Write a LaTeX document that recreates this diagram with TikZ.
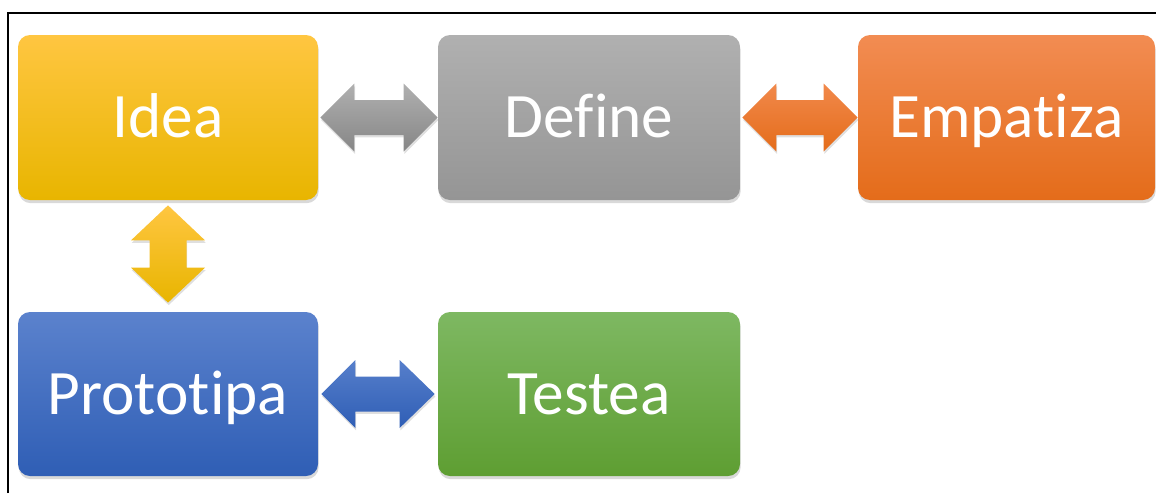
\documentclass[tikz,border=0pt]{standalone}
\usepackage{fontspec}
\setmainfont{Carlito}[Ligatures={NoCommon,NoRare,NoDiscretionary}]
\usetikzlibrary{shadows, calc}

\definecolor{ideaT}{HTML}{FFC641}
\definecolor{ideaM}{HTML}{FFC000}
\definecolor{ideaB}{HTML}{E8B500}
\definecolor{defT}{HTML}{B0B0B0}
\definecolor{defM}{HTML}{A5A5A5}
\definecolor{defB}{HTML}{959595}
\definecolor{empT}{HTML}{F28C52}
\definecolor{empM}{HTML}{F07C30}
\definecolor{empB}{HTML}{E46C1A}
\definecolor{proT}{HTML}{5B82CD}
\definecolor{proM}{HTML}{4472C4}
\definecolor{proB}{HTML}{2F5EB5}
\definecolor{tesT}{HTML}{7EB862}
\definecolor{tesM}{HTML}{70AD47}
\definecolor{tesB}{HTML}{5E9E32}

\begin{document}
\begin{tikzpicture}
\tikzstyle{every node}=[text=white, font=\fontsize{36}{40}\selectfont]
\tikzstyle{stage}=[rectangle, rounded corners=0.24cm, minimum width=6cm, minimum height=3.3cm,
  text height=23pt, text depth=0pt,
  drop shadow={opacity=0.3, shadow xshift=0.4pt, shadow yshift=-1.8pt}]
\tikzstyle{blockarrow}=[drop shadow={opacity=0.25, shadow xshift=0.4pt, shadow yshift=-1.4pt}]

\useasboundingbox (0,0) rectangle (23.12,9.86);
\draw[line width=1pt] (0.165,0) -- (0.165,9.6) -- (23.2,9.6);

\node[stage, top color=ideaT, middle color=ideaM, bottom color=ideaB] at (3.36,7.51) (I) {Idea};
\node[stage, top color=defT, middle color=defM, bottom color=defB, minimum width=6.04cm] at (11.78,7.51) (D) {Define};
\node[stage, top color=empT, middle color=empM, bottom color=empB, minimum width=5.94cm] at (20.13,7.51) (E) {Empatiza};
\node[stage, top color=proT, middle color=proM, bottom color=proB, minimum height=3.28cm] at (3.36,1.98) (P) {Prototipa};
\node[stage, top color=tesT, middle color=tesM, bottom color=tesB, minimum width=6.04cm, minimum height=3.28cm] at (11.78,1.98) (T) {Testea};

% double block arrows between the stages
\path[blockarrow, top color=defT, bottom color=defB!90!black]
  let \p1=(I.east), \p2=(D.west) in
  (\x1+0.04cm,\y1) -- (\x1+0.72cm,\y1+0.68cm) -- (\x1+0.72cm,\y1+0.35cm) -- (\x2-0.68cm,\y1+0.35cm)
  -- (\x2-0.68cm,\y1+0.68cm) -- (\x2,\y1) -- (\x2-0.68cm,\y1-0.68cm) -- (\x2-0.68cm,\y1-0.35cm)
  -- (\x1+0.72cm,\y1-0.35cm) -- (\x1+0.72cm,\y1-0.68cm) -- cycle;
\path[blockarrow, top color=empT!80!empM, bottom color=empB]
  let \p1=(D.east), \p2=(E.west) in
  (\x1+0.04cm,\y1) -- (\x1+0.72cm,\y1+0.68cm) -- (\x1+0.72cm,\y1+0.35cm) -- (\x2-0.68cm,\y1+0.35cm)
  -- (\x2-0.68cm,\y1+0.68cm) -- (\x2,\y1) -- (\x2-0.68cm,\y1-0.68cm) -- (\x2-0.68cm,\y1-0.35cm)
  -- (\x1+0.72cm,\y1-0.35cm) -- (\x1+0.72cm,\y1-0.68cm) -- cycle;
\path[blockarrow, top color=proT!80!proM, bottom color=proB]
  let \p1=(P.east), \p2=(T.west) in
  (\x1+0.06cm,\y1) -- (\x1+0.74cm,\y1+0.68cm) -- (\x1+0.74cm,\y1+0.35cm) -- (\x2-0.76cm,\y1+0.35cm)
  -- (\x2-0.76cm,\y1+0.68cm) -- (\x2-0.06cm,\y1) -- (\x2-0.76cm,\y1-0.68cm) -- (\x2-0.76cm,\y1-0.35cm)
  -- (\x1+0.74cm,\y1-0.35cm) -- (\x1+0.74cm,\y1-0.68cm) -- cycle;
\path[blockarrow, top color=ideaT, bottom color=ideaB]
  let \p1=(I.south), \p2=(P.north) in
  (\x1,\y1-0.1cm) -- (\x1+0.74cm,\y1-0.8cm) -- (\x1+0.37cm,\y1-0.8cm) -- (\x1+0.37cm,\y2+0.88cm)
  -- (\x1+0.74cm,\y2+0.88cm) -- (\x1,\y2+0.18cm) -- (\x1-0.74cm,\y2+0.88cm) -- (\x1-0.37cm,\y2+0.88cm)
  -- (\x1-0.37cm,\y1-0.8cm) -- (\x1-0.74cm,\y1-0.8cm) -- cycle;
\end{tikzpicture}
\end{document}
